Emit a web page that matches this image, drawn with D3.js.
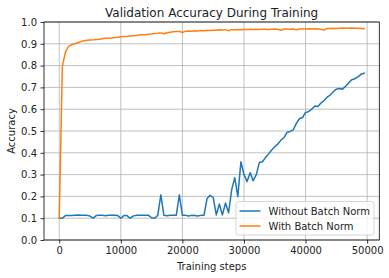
<!DOCTYPE html>
<html><head><meta charset="utf-8">
<script src="https://cdn.jsdelivr.net/npm/d3@7"></script>
<style>body{margin:0;background:#fff}svg{display:block;font-family:"DejaVu Sans",sans-serif}</style>
</head><body><svg id="c" width="389" height="278"></svg>
<script>
const steps = d3.range(0, 50000, 500);
const withoutBN = [
0.100,0.100,0.112,0.112,0.112,0.114,0.115,0.114,0.114,0.113,
0.110,0.100,0.112,0.113,0.113,0.111,0.113,0.113,0.113,0.112,
0.100,0.112,0.112,0.100,0.110,0.113,0.113,0.113,0.113,0.113,
0.102,0.100,0.113,0.207,0.113,0.111,0.113,0.113,0.113,0.207,
0.113,0.113,0.110,0.113,0.112,0.110,0.113,0.113,0.190,0.205,
0.195,0.115,0.165,0.115,0.170,0.125,0.230,0.286,0.199,0.359,
0.300,0.268,0.309,0.272,0.300,0.356,0.359,0.378,0.395,0.413,
0.428,0.440,0.458,0.470,0.494,0.498,0.505,0.535,0.556,0.562,
0.585,0.589,0.600,0.615,0.612,0.628,0.640,0.655,0.665,0.680,
0.692,0.695,0.692,0.705,0.720,0.735,0.740,0.748,0.760,0.765];
const withBN = [
0.100,0.795,0.862,0.888,0.896,0.900,0.905,0.910,0.914,0.916,
0.917,0.918,0.920,0.921,0.923,0.925,0.926,0.927,0.929,0.930,
0.932,0.933,0.934,0.936,0.937,0.938,0.940,0.941,0.942,0.944,
0.945,0.947,0.948,0.950,0.946,0.951,0.953,0.955,0.956,0.957,
0.952,0.958,0.959,0.958,0.960,0.959,0.961,0.960,0.962,0.961,
0.962,0.962,0.964,0.963,0.965,0.960,0.965,0.964,0.966,0.965,
0.966,0.966,0.967,0.966,0.967,0.966,0.967,0.967,0.966,0.967,
0.968,0.967,0.962,0.968,0.968,0.967,0.968,0.964,0.968,0.968,
0.968,0.969,0.968,0.969,0.968,0.967,0.963,0.970,0.970,0.971,
0.970,0.971,0.972,0.971,0.971,0.972,0.971,0.971,0.970,0.969];
const xTicks = [0, 10000, 20000, 30000, 40000, 50000];
const yTicks = [0.0, 0.1, 0.2, 0.3, 0.4, 0.5, 0.6, 0.7, 0.8, 0.9, 1.0];
const seriesNames = ["Without Batch Norm", "With Batch Norm"];
const colors = ["#1f77b4", "#ff7f0e"];
const titleText = "Validation Accuracy During Training";
const xLabel = "Training steps";
const yLabel = "Accuracy";

const svg = d3.select("#c");
const L = 44, R = 379.3, T = 22, B = 240;
const pad = (steps[steps.length-1] - steps[0]) * 0.05;
const x = d3.scaleLinear().domain([steps[0]-pad, steps[steps.length-1]+pad]).range([L, R]);
const y = d3.scaleLinear().domain([0, 1]).range([B, T]);

// grid
svg.append("g").selectAll("line").data(xTicks).join("line")
  .attr("x1", d=>x(d)).attr("x2", d=>x(d)).attr("y1", T).attr("y2", B)
  .attr("stroke", "#b0b0b0").attr("stroke-width", 0.8);
svg.append("g").selectAll("line").data(yTicks).join("line")
  .attr("x1", L).attr("x2", R).attr("y1", d=>y(d)).attr("y2", d=>y(d))
  .attr("stroke", "#b0b0b0").attr("stroke-width", 0.8);

// lines
const clipId = "clip";
svg.append("clipPath").attr("id", clipId).append("rect").attr("x", L).attr("y", T).attr("width", R-L).attr("height", B-T);
const line = d3.line().x((d,i)=>x(steps[i])).y(d=>y(d));
[withoutBN, withBN].forEach((s, k) => {
  svg.append("path").datum(s).attr("d", line).attr("fill", "none")
    .attr("stroke", colors[k]).attr("stroke-width", 1.5)
    .attr("stroke-linejoin", "round").attr("stroke-linecap", "square")
    .attr("clip-path", `url(#${clipId})`);
});

// axes
const xAxis = d3.axisBottom(x).tickValues(xTicks).tickSize(3.5).tickPadding(3.5).tickFormat(d3.format("d"));
const yAxis = d3.axisLeft(y).tickValues(yTicks).tickSize(3.5).tickPadding(3.5).tickFormat(d3.format(".1f"));
const gx = svg.append("g").attr("transform", `translate(0,${B})`).call(xAxis);
const gy = svg.append("g").attr("transform", `translate(${L},0)`).call(yAxis);
[gx, gy].forEach(g => {
  g.select(".domain").remove();
  g.selectAll(".tick line").attr("stroke", "#000").attr("stroke-width", 0.8);
  g.selectAll(".tick text").attr("fill", "#222").attr("font-size", "10px").attr("font-family", "DejaVu Sans");
});
// spines
svg.append("rect").attr("x", L).attr("y", T).attr("width", R-L).attr("height", B-T)
  .attr("fill", "none").attr("stroke", "#000").attr("stroke-width", 0.8);

// title and labels
svg.append("text").attr("x", (L+R)/2).attr("y", 17).attr("text-anchor", "middle")
  .attr("font-size", "12px").attr("fill", "#222").text(titleText);
svg.append("text").attr("x", (L+R)/2).attr("y", 270).attr("text-anchor", "middle")
  .attr("font-size", "10px").attr("fill", "#222").text(xLabel);
svg.append("text").attr("transform", `translate(14.5,${(T+B)/2}) rotate(-90)`).attr("text-anchor", "middle")
  .attr("font-size", "10px").attr("fill", "#222").text(yLabel);

// legend
const lg = svg.append("g");
lg.append("rect").attr("x", 236).attr("y", 201.5).attr("width", 138).attr("height", 33.5)
  .attr("rx", 2.5).attr("fill", "#fff").attr("fill-opacity", 0.8).attr("stroke", "#cccccc").attr("stroke-width", 0.8);
seriesNames.forEach((n, i) => {
  const yy = 211 + i*15;
  lg.append("line").attr("x1", 239.5).attr("x2", 260.5).attr("y1", yy).attr("y2", yy)
    .attr("stroke", colors[i]).attr("stroke-width", 1.5);
  lg.append("text").attr("x", 268.5).attr("y", yy + 3.6).attr("font-size", "10px").attr("fill", "#222").text(n);
});
</script></body></html>
